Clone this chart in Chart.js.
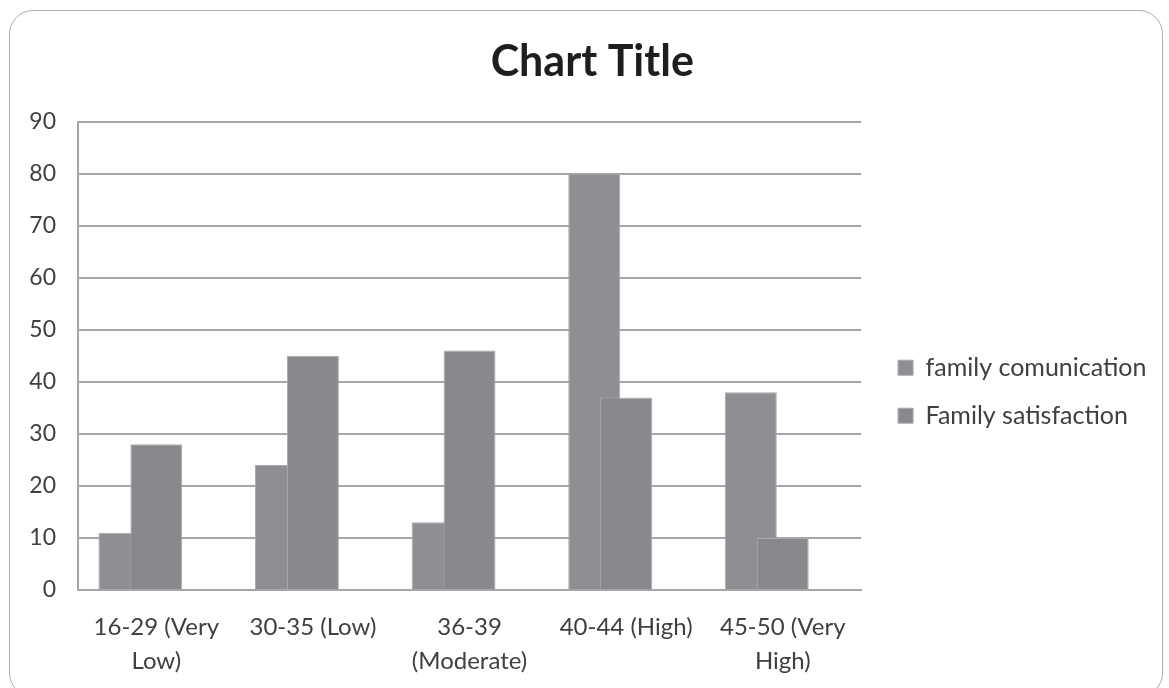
<!DOCTYPE html>
<html>
<head>
<meta charset="utf-8">
<script src="https://cdn.jsdelivr.net/npm/chart.js@4"></script>
<style>
  html, body { margin: 0; padding: 0; background: #fff; }
  #wrap { position: relative; width: 1169px; height: 688px; overflow: hidden; }
  #frame {
    position: absolute; left: 9px; top: 10px; width: 1154px; height: 687px;
    border: 1.5px solid #aeaeb0; border-radius: 24px; box-sizing: border-box;
  }
  canvas { position: absolute; left: 0; top: 0; }
</style>
</head>
<body>
<div id="wrap">
  <div id="frame"></div>
  <canvas id="chart" width="1169" height="688"></canvas>
</div>
<script>
const categories = [['16-29 (Very', 'Low)'], '30-35 (Low)', ['36-39', '(Moderate)'], '40-44 (High)', ['45-50 (Very', 'High)']];
const communication = [11, 24, 13, 80, 38];
const satisfaction = [28, 45, 46, 37, 10];
const yTicks = [0, 10, 20, 30, 40, 50, 60, 70, 80, 90];

const FONT = 'Lato, "Open Sans", sans-serif';

// second series is drawn on top of the first one (Excel overlap look)
const drawOrder = {
  id: 'drawOrder',
  beforeDatasetDraw(chart, args) {
    if (args.index === 1) return false;
  },
  afterDatasetsDraw(chart) {
    chart.getDatasetMeta(1).controller.draw();
  }
};

// push the legend a bit further from the plot, title a bit right
const nudge = {
  id: 'nudge',
  afterLayout(chart) {
    chart.legend.left += 14;
    chart.legend.right += 14;
    chart.titleBlock.left += 16;
    chart.titleBlock.right += 16;
  }
};

const ctx = document.getElementById('chart').getContext('2d');
new Chart(ctx, {
  type: 'bar',
  data: {
    labels: categories,
    datasets: [{
      label: 'family comunication',
      data: communication,
      backgroundColor: '#8e8f93',
      borderColor: '#a9aaad',
      borderWidth: 1,
    }, {
      label: 'Family satisfaction',
      data: satisfaction,
      backgroundColor: '#88898d',
      borderColor: '#a9aaad',
      borderWidth: 1,
    }, {
      // empty slot so the second series sits in the middle of its category
      label: '',
      data: categories.map(() => null),
    }]
  },
  options: {
    responsive: false,
    animation: false,
    categoryPercentage: 0.612,
    barPercentage: 1.625,
    layout: { padding: { left: 10, right: 26.5, top: 10, bottom: 10 } },
    plugins: {
      title: {
        display: true,
        text: 'Chart Title',
        color: '#1e1e1e',
        font: { family: FONT, size: 43, weight: 'bold' },
        padding: { top: 26, bottom: 34 }
      },
      legend: {
        position: 'right',
        labels: {
          filter: (item) => item.datasetIndex < 2,
          boxWidth: 15,
          boxHeight: 15,
          color: '#404040',
          font: { family: FONT, size: 25 },
          padding: 23
        },
        title: { display: true, text: '', padding: { top: 81, bottom: 0 } }
      },
      tooltip: { enabled: false }
    },
    scales: {
      x: {
        grid: { display: false, drawTicks: false },
        border: { color: '#a6a6a8', width: 2 },
        afterFit: (s) => { s.height = 88; },
        ticks: {
          color: '#404040',
          font: { family: FONT, size: 24, lineHeight: 1.42 },
          padding: 20,
          maxRotation: 0,
          autoSkip: false
        }
      },
      y: {
        min: 0,
        max: 90,
        afterBuildTicks: (axis) => { axis.ticks = yTicks.map(v => ({ value: v })); },
        afterFit: (s) => { s.width = 68; },
        grid: { color: '#a6a6a8', lineWidth: 2, drawTicks: false },
        border: { color: '#a6a6a8', width: 2 },
        ticks: {
          color: '#404040',
          font: { family: FONT, size: 23 },
          padding: 22
        }
      }
    }
  },
  plugins: [drawOrder, nudge]
});
</script>
</body>
</html>
